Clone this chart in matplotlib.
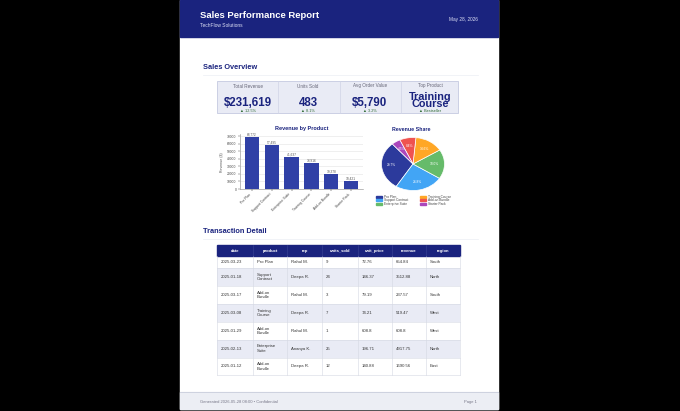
import matplotlib
matplotlib.use("Agg")
import matplotlib.pyplot as plt
from matplotlib.patches import Rectangle

plt.rcParams["font.family"] = ["Liberation Sans", "DejaVu Sans"]

W, H = 680, 411

# --- data ---
products = ["Pro Plan", "Support Contract", "Enterprise Suite",
            "Training Course", "Add-on Bundle", "Starter Pack"]
revenue = [68772, 57495, 41637, 33916, 19378, 10421]
pie_colors = ["#2c3a9c", "#42a5f5", "#66bb6a", "#ffa726", "#ef5350", "#ab47bc"]

kpi_labels = ["Total Revenue", "Units Sold", "Avg Order Value", "Top Product"]
kpi_values = ["$231,619", "483", "$5,790", "Training\nCourse"]
kpi_deltas = ["▲ 12.5%", "▲ 8.1%", "▲ 3.2%", "▲ Bestseller"]

col_names = ["date", "product", "rep", "units_sold", "unit_price", "revenue", "region"]
dates = ["2025-03-23", "2025-01-18", "2025-03-17", "2025-03-08",
         "2025-01-29", "2025-02-13", "2025-01-12"]
prod_col = ["Pro Plan", "Support\nContract", "Add-on\nBundle", "Training\nCourse",
            "Add-on\nBundle", "Enterprise\nSuite", "Add-on\nBundle"]
reps = ["Rahul M.", "Deepa R.", "Rahul M.", "Deepa R.", "Rahul M.", "Ananya K.", "Deepa R."]
units = [9, 24, 3, 7, 1, 25, 12]
unit_price = ["72.76", "146.37", "79.19", "74.21", "608.8", "196.71", "140.88"]
row_revenue = ["654.84", "3512.88", "237.57", "519.47", "608.8", "4917.75", "1690.56"]
regions = ["South", "North", "South", "West", "West", "North", "East"]

NAVY = "#1a237e"


def fig_box(x0, y0, x1, y1):
    return [x0 / W, 1 - y1 / H, (x1 - x0) / W, (y1 - y0) / H]


fig = plt.figure(figsize=(W / 100, H / 100), dpi=100, facecolor="black")

# pixel-space overlay
bg = fig.add_axes([0, 0, 1, 1])
bg.set_xlim(0, W)
bg.set_ylim(H, 0)
bg.axis("off")
bg.set_facecolor("black")

bg.add_patch(Rectangle((180, 0), 318, 409, color="white", zorder=0))
bg.add_patch(Rectangle((180, 0), 318, 37, color=NAVY, zorder=1))
bg.text(200, 15, "Sales Performance Report", color="white", fontsize=6.8,
        fontweight="bold", va="center")
bg.text(200, 25.5, "TechFlow Solutions", color="#dde0f5", fontsize=3.5, va="center")
bg.text(478, 19, "May 28, 2026", color="#dde0f5", fontsize=3.4, va="center", ha="right")

# section titles
bg.text(203, 67.5, "Sales Overview", color=NAVY, fontsize=5.3, fontweight="bold", va="center")
bg.plot([203, 478], [75, 75], color="#eceef4", lw=0.5)
bg.text(203, 231, "Transaction Detail", color=NAVY, fontsize=5.3, fontweight="bold", va="center")
bg.plot([203, 478], [239, 239], color="#eceef4", lw=0.5)

# KPI box
bg.add_patch(Rectangle((217, 81), 241, 32, facecolor="#e9ebf5", edgecolor="#c5cae0",
                       lw=0.6, zorder=1))
for xd in [278, 340, 401]:
    bg.plot([xd, xd], [81, 113], color="#d0d4e6", lw=0.5, zorder=2)
kpi_x = [248, 308, 370, 430]
for i in range(4):
    bg.text(kpi_x[i], 86, kpi_labels[i], color="#666677", fontsize=3.3,
            ha="center", va="center", zorder=3)
    bg.text(kpi_x[i], 110.5, kpi_deltas[i], color="#2e6b34", fontsize=2.8,
            ha="center", va="center", zorder=3)
    if i < 3:
        bg.text(kpi_x[i], 102.5, kpi_values[i], color=NAVY, fontsize=8.3,
                fontweight="bold", ha="center", va="center", zorder=3)
    else:
        bg.text(kpi_x[i], 100.5, kpi_values[i], color=NAVY, fontsize=7.8,
                fontweight="bold", ha="center", va="center", linespacing=0.72, zorder=4)

# bar chart
axb = fig.add_axes(fig_box(240, 134.5, 363, 189))
xs = range(len(products))
axb.bar(xs, revenue, width=0.72, color="#3040a6", zorder=3)
for x, v in zip(xs, revenue):
    axb.text(x, v + 900, f"{v:,}", ha="center", va="bottom", fontsize=2.3, color="#555555")
axb.set_ylim(0, 72000)
axb.set_xlim(-0.6, len(products) - 0.4)
axb.set_yticks(range(0, 70001, 10000))
axb.tick_params(axis="y", labelsize=2.4, length=1.5, width=0.3, pad=1, colors="#444444")
axb.set_xticks(list(xs))
axb.set_xticklabels(products, rotation=45, ha="right", fontsize=2.4, color="#444444")
axb.tick_params(axis="x", length=1.5, width=0.3, pad=1)
axb.grid(axis="y", color="#e3e3e3", lw=0.4, zorder=0)
for s in ["top", "right"]:
    axb.spines[s].set_visible(False)
for s in ["left", "bottom"]:
    axb.spines[s].set_linewidth(0.4)
    axb.spines[s].set_color("#888888")
axb.set_ylabel("Revenue ($)", fontsize=2.5, color="#555555", labelpad=2)
axb.set_title("Revenue by Product", fontsize=4.0, fontweight="bold", color=NAVY, pad=3)

# pie chart
cx, cy, rx, ry = 413, 164, 31.5, 26.5
axp = fig.add_axes(fig_box(cx - 1.25 * rx, cy - 1.25 * ry, cx + 1.25 * rx, cy + 1.25 * ry))
axp.pie(revenue, colors=pie_colors, startangle=131, autopct="%1.1f%%", pctdistance=0.68,
        wedgeprops=dict(edgecolor="white", linewidth=0.5),
        textprops=dict(color="white", fontsize=2.3))
axp.set_aspect("auto")
axp.set_xlim(-1.25, 1.25)
axp.set_ylim(-1.25, 1.25)
bg.text(411, 129, "Revenue Share", fontsize=3.8, fontweight="bold", color=NAVY,
        ha="center", va="center")

# pie legend
for i, name in enumerate(products):
    col, row = divmod(i, 3)
    lx = 376 + col * 44
    ly = 196.8 + row * 3.5
    bg.add_patch(Rectangle((lx, ly - 1), 6, 2, color=pie_colors[i], zorder=3))
    bg.text(lx + 8, ly, name, fontsize=2.3, color="#444444", va="center", zorder=3)

# table
col_edges = [217, 253, 287, 322, 358, 392, 426, 460]
row_edges = [256, 268, 286, 304, 322, 340, 357.5, 375]
bg.add_patch(Rectangle((217, 245), 243, 11, color=NAVY, zorder=2))
for j, name in enumerate(col_names):
    bg.text((col_edges[j] + col_edges[j + 1]) / 2, 250.5, name, color="white",
            fontsize=3.0, fontweight="bold", ha="center", va="center", zorder=3)
    if j > 0:
        bg.plot([col_edges[j]] * 2, [245, 256], color="#3a4496", lw=0.4, zorder=3)

rows = list(zip(dates, prod_col, reps, units, unit_price, row_revenue, regions))
for i, r in enumerate(rows):
    y0, y1 = row_edges[i], row_edges[i + 1]
    fc = "#e9ebf5" if i % 2 == 1 else "white"
    bg.add_patch(Rectangle((217, y0), 243, y1 - y0, facecolor=fc, edgecolor="none", zorder=1))
    bg.plot([217, 460], [y1, y1], color="#d5d8e3", lw=0.4, zorder=2)
    for j, val in enumerate(r):
        bg.text(col_edges[j] + 4, (y0 + y1) / 2, str(val), fontsize=3.1, color="#333333",
                ha="left", va="center", linespacing=1.25, zorder=3)
for xe in col_edges:
    bg.plot([xe, xe], [256, 375], color="#d5d8e3", lw=0.4, zorder=2)

# footer
bg.add_patch(Rectangle((180, 392), 318, 17, color="#eceef4", zorder=1))
bg.plot([180, 498], [392, 392], color="#c9cddb", lw=0.6, zorder=2)
bg.text(200, 401.5, "Generated 2026-05-28 08:00 \u2022 Confidential", fontsize=3.0,
        color="#777788", va="center", zorder=3)
bg.text(477, 401.5, "Page 1", fontsize=3.0, color="#777788", va="center", ha="right", zorder=3)

fig.savefig("out.png", dpi=100, facecolor="black")
